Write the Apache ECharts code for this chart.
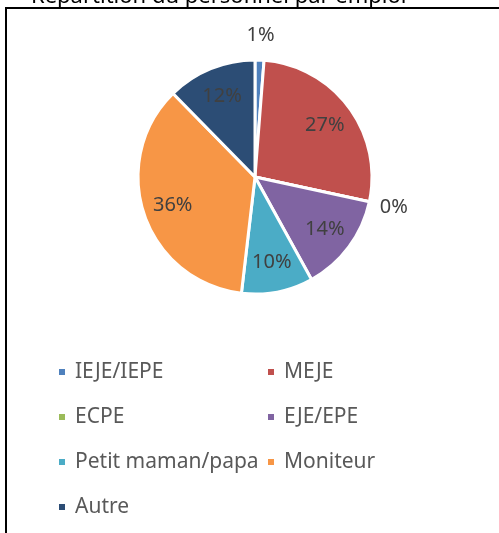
<!DOCTYPE html>
<html lang="fr">
<head>
    <meta charset="UTF-8">
    <title>Répartition du personnel par emploi</title>
    <style>
        html, body {margin: 0; padding: 0; background: #fff;}
        #main {width: 499px; height: 533px;}
    </style>
    <script type="text/javascript" src="https://cdn.jsdelivr.net/npm/echarts@6/dist/echarts.min.js"></script>
</head>
<body>
    <div id="main"></div>
    <script>
        // effectifs par emploi
        var emplois = ['IEJE/IEPE', 'MEJE', 'ECPE', 'EJE/EPE', 'Petit maman/papa', 'Moniteur', 'Autre']
        var effectifs = [1, 22, 0, 11, 8, 29, 10]
        var couleurs = ['#4F81BD', '#C0504D', '#9BBB59', '#8064A2', '#4BACC6', '#F79646', '#2C4D75']
        // etiquettes placees a l'exterieur de la tarte
        var horsTarte = ['IEJE/IEPE', 'ECPE']
        var legendeGauche = ['IEJE/IEPE', 'ECPE', 'Petit maman/papa', 'Autre']
        var legendeDroite = ['MEJE', 'EJE/EPE', 'Moniteur']

        var police = 'Noto Sans'
        var pct = function (p) { return Math.round(p.percent) + '%' }

        var donnees = emplois.map(function (n, i) {
            return {name: n, value: effectifs[i], itemStyle: {color: couleurs[i]}}
        })
        var vide = {color: 'rgba(0,0,0,0)', borderWidth: 0}
        var etiquettes = function (garder) {
            return emplois.map(function (n, i) {
                return {name: n, value: effectifs[i], label: {show: garder(n)}}
            })
        }
        var legende = function (liste, x) {
            return {
                data: liste,
                orient: 'vertical',
                left: x,
                top: 360,
                padding: 0,
                icon: 'rect',
                itemWidth: 8,
                itemHeight: 8,
                itemGap: 21,
                selectedMode: false,
                textStyle: {fontFamily: police, fontSize: 21, lineHeight: 24, color: '#595959', padding: [0, 0, 0, 4]}
            }
        }

        var myChart = echarts.init(document.getElementById('main'))
        myChart.setOption({
            animation: false,
            title: {
                text: 'Répartition du personnel par emploi',
                left: 26,
                top: -19,
                textStyle: {fontFamily: police, fontSize: 22, fontWeight: 'normal', color: '#000'}
            },
            graphic: [{
                type: 'rect',
                shape: {x: 6, y: 8, width: 600, height: 600},
                style: {fill: 'none', stroke: '#000', lineWidth: 2}
            }],
            legend: [legende(legendeGauche, 57), legende(legendeDroite, 266)],
            series: [{
                type: 'pie',
                center: [255, 177],
                radius: [0, 117],
                startAngle: 90,
                clockwise: true,
                silent: true,
                label: {show: false},
                labelLine: {show: false},
                itemStyle: {borderColor: '#fff', borderWidth: 3},
                data: donnees
            }, {
                // etiquettes interieures
                type: 'pie',
                center: [255, 177],
                radius: [0, 168],
                silent: true,
                itemStyle: vide,
                labelLine: {show: false},
                label: {position: 'inside', formatter: pct, fontFamily: police, fontSize: 20, color: '#404040'},
                data: etiquettes(function (n) { return horsTarte.indexOf(n) < 0 })
            }, {
                // etiquettes exterieures
                type: 'pie',
                center: [255, 177],
                radius: [117, 161],
                silent: true,
                itemStyle: vide,
                labelLine: {show: false},
                label: {position: 'inside', formatter: pct, fontFamily: police, fontSize: 20, color: '#404040'},
                data: etiquettes(function (n) { return horsTarte.indexOf(n) >= 0 })
            }]
        })
    </script>
</body>
</html>
